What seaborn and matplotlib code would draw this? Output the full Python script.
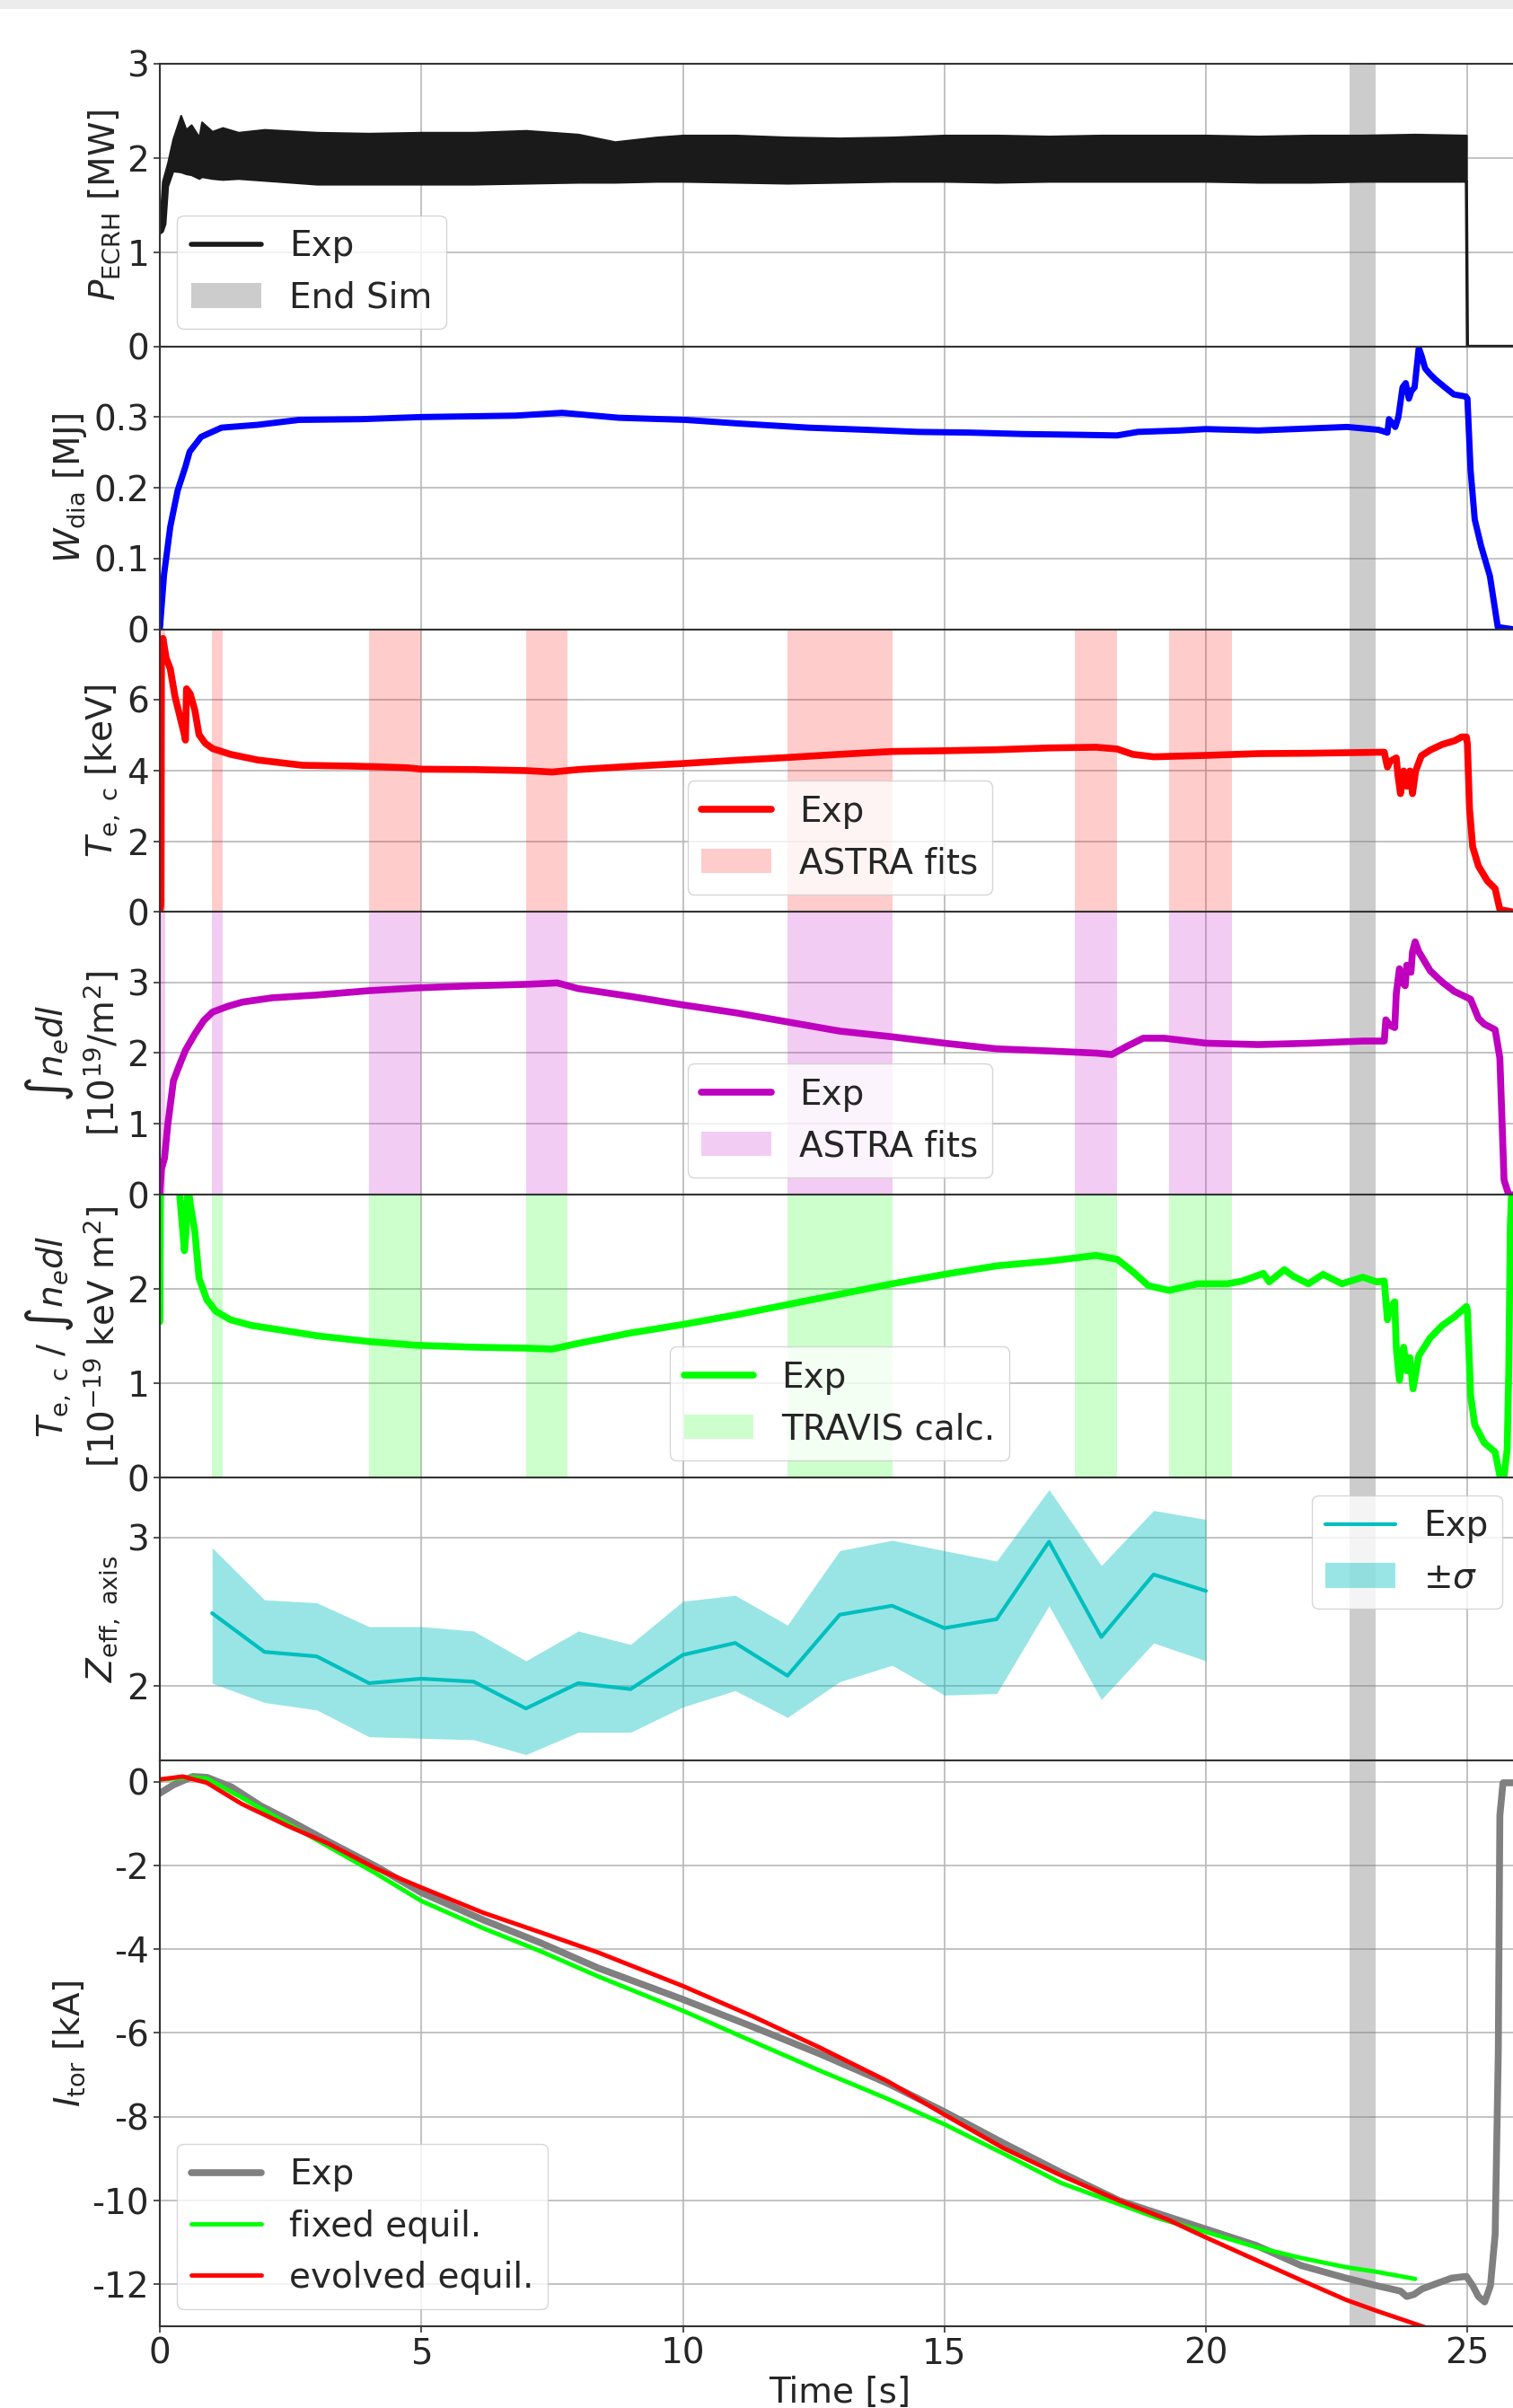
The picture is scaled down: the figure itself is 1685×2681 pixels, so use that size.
import numpy as np
import pandas as pd
import matplotlib
matplotlib.use("Agg")
import matplotlib.pyplot as plt
import seaborn as sns
from matplotlib.patches import Rectangle
from matplotlib.ticker import FuncFormatter

sns.set_theme(style="whitegrid")
plt.rcParams['font.family'] = ['DejaVu Sans']
plt.rcParams['mathtext.fontset'] = 'dejavusans'
plt.rcParams['axes.unicode_minus'] = False

FS = 28
MAGENTA = '#bf00bf'
CYAN = '#00bfbf'

# --- P_ECRH (envelope of the fast oscillating signal) ---
p_t = [0, 0.05, 0.1, 0.15, 0.25, 0.4, 0.5, 0.6, 0.75, 0.8, 1.0, 1.2, 1.5, 2, 3, 4, 5, 6, 7, 8,
       8.7, 9.5, 10, 11, 12, 13, 14, 15, 16, 17, 18, 19, 20, 21, 22, 23, 24, 24.98]
p_up = [1.3, 1.75, 1.85, 1.95, 2.2, 2.45, 2.3, 2.35, 2.22, 2.38, 2.28, 2.32, 2.27, 2.3, 2.27, 2.26, 2.27, 2.27, 2.29, 2.25,
        2.17, 2.22, 2.24, 2.24, 2.22, 2.21, 2.22, 2.24, 2.24, 2.23, 2.24, 2.24, 2.24, 2.23, 2.24, 2.24, 2.25, 2.24]
p_low = [1.2, 1.22, 1.3, 1.7, 1.86, 1.85, 1.83, 1.82, 1.78, 1.8, 1.78, 1.77, 1.78, 1.76, 1.72, 1.72, 1.72, 1.72, 1.73, 1.74,
         1.74, 1.75, 1.75, 1.74, 1.73, 1.74, 1.75, 1.75, 1.74, 1.75, 1.75, 1.75, 1.75, 1.74, 1.74, 1.75, 1.75, 1.75]
p_end_t = [24.98, 25.0, 26.0]
p_end = [1.75, 0.0, 0.0]

# --- W_dia ---
w_t = [0, 0.08, 0.2, 0.34, 0.49, 0.57, 0.79, 1.18, 1.87, 2.66, 3.84, 5.0, 6.8, 7.69, 8.77, 10.05, 11.04, 12.4, 13.5, 14.5,
       15.5, 16.5, 17.5, 18.3, 18.7, 19.5, 20.0, 21.0, 22.7, 23.3, 23.47, 23.5, 23.62, 23.68, 23.76, 23.82, 23.88, 23.93,
       23.99, 24.07, 24.13, 24.19, 24.28, 24.39, 24.57, 24.74, 24.97, 25.0, 25.06, 25.14, 25.26, 25.43, 25.58, 25.86]
w_dia = [0, 0.077, 0.145, 0.196, 0.23, 0.251, 0.272, 0.285, 0.289, 0.296, 0.297, 0.300, 0.302, 0.306, 0.299, 0.296, 0.291,
         0.285, 0.282, 0.279, 0.278, 0.276, 0.275, 0.274, 0.279, 0.281, 0.283, 0.281, 0.286, 0.282, 0.278, 0.297, 0.286,
         0.300, 0.342, 0.348, 0.326, 0.337, 0.342, 0.398, 0.385, 0.369, 0.361, 0.353, 0.342, 0.332, 0.329, 0.326, 0.225,
         0.155, 0.118, 0.075, 0.003, 0.0]

# --- T_e,c ---
te_t = [0, 0.02, 0.03, 0.06, 0.12, 0.2, 0.29, 0.38, 0.47, 0.49, 0.51, 0.58, 0.67, 0.75, 0.87, 1.01, 1.35, 1.87, 2.73, 3.59,
        4.16, 4.73, 5.0, 6.0, 7.0, 7.5, 8.0, 9.0, 10.0, 11.0, 12.0, 13.0, 14.0, 15.0, 16.0, 17.0, 17.9, 18.3, 18.6, 19.0,
        20.0, 21.0, 22.0, 23.41, 23.47, 23.52, 23.64, 23.67, 23.72, 23.78, 23.84, 23.9, 23.95, 24.01, 24.12, 24.29, 24.52,
        24.75, 24.89, 24.98, 25.0, 25.04, 25.1, 25.21, 25.38, 25.53, 25.62, 25.87]
te = [0.0, 0.2, 7.33, 7.72, 7.17, 6.86, 6.08, 5.54, 5.0, 4.85, 6.3, 6.16, 5.69, 5.0, 4.76, 4.61, 4.45, 4.29, 4.14, 4.12,
      4.1, 4.07, 4.03, 4.02, 3.99, 3.95, 4.02, 4.11, 4.19, 4.28, 4.36, 4.45, 4.53, 4.55, 4.58, 4.63, 4.65, 4.6, 4.45, 4.38,
      4.42, 4.47, 4.48, 4.51, 4.09, 4.25, 4.35, 3.87, 3.34, 3.98, 3.55, 3.98, 3.34, 3.98, 4.41, 4.57, 4.73,
      4.83, 4.94, 4.94, 4.73, 2.91, 1.84, 1.3, 0.88, 0.66, 0.07, 0.0]

# --- line integrated density ---
ne_t = [0, 0.03, 0.09, 0.15, 0.26, 0.38, 0.49, 0.67, 0.84, 1.01, 1.3, 1.58, 2.15, 3.01, 3.99, 4.9, 6.0, 7.0, 7.6, 8.0,
        9.0, 10.0, 11.0, 12.0, 13.0, 14.0, 15.0, 16.0, 17.0, 17.9, 18.2, 18.5, 18.8, 19.2, 20.0, 21.0, 22.0, 23.0, 23.41,
        23.44, 23.52, 23.61, 23.64, 23.7, 23.75, 23.81, 23.84, 23.92, 23.95, 24.0, 24.07, 24.29, 24.52, 24.75, 25.06,
        25.21, 25.32, 25.53, 25.62, 25.7, 25.79, 25.87]
ne = [0.0, 0.36, 0.52, 0.98, 1.61, 1.84, 2.04, 2.27, 2.46, 2.58, 2.66, 2.72, 2.78, 2.82, 2.88, 2.92, 2.95, 2.97, 2.99, 2.91,
      2.8, 2.68, 2.57, 2.44, 2.31, 2.23, 2.14, 2.06, 2.03, 2.0, 1.98, 2.1, 2.21, 2.21, 2.14, 2.12, 2.14, 2.17, 2.17,
      2.47, 2.39, 2.36, 2.84, 3.19, 3.0, 2.95, 3.24, 3.14, 3.43, 3.57, 3.43, 3.16, 3.0, 2.87, 2.76,
      2.49, 2.41, 2.33, 1.93, 0.21, 0.0, 0.0]

# --- T_e,c / int n_e dl ---
r_t = [0, 0.02, 0.35, 0.38, 0.47, 0.5, 0.54, 0.58, 0.67, 0.75, 0.9, 1.07, 1.35, 1.75, 2.33, 3.01, 3.99, 4.9, 6.0, 7.0,
       7.5, 8.0, 9.0, 10.0, 11.0, 12.0, 13.0, 14.0, 15.0, 16.0, 17.0, 17.9, 18.3, 18.6, 18.9, 19.3, 19.84, 20.41, 20.7,
       21.1, 21.21, 21.5, 21.67, 21.96, 22.24, 22.6, 23.0, 23.27, 23.41, 23.47, 23.52, 23.61, 23.64, 23.7, 23.78, 23.84,
       23.9, 23.96, 24.07, 24.29, 24.52, 24.75, 24.98, 25.0, 25.06, 25.14, 25.32, 25.53, 25.62, 25.7, 25.76, 25.79,
       25.82, 25.85, 25.9]
ratio = [1.65, 4.0, 3.6, 2.99, 2.4, 2.6, 3.1, 2.9, 2.6, 2.11, 1.88, 1.76, 1.67, 1.61, 1.56, 1.5, 1.44, 1.4, 1.38, 1.37,
         1.36, 1.42, 1.53, 1.62, 1.72, 1.83, 1.94, 2.05, 2.15, 2.24, 2.29, 2.35, 2.31, 2.18, 2.03, 1.98, 2.05, 2.05, 2.08,
         2.16, 2.07, 2.2, 2.13, 2.05, 2.15, 2.05, 2.12, 2.07, 2.08, 1.67, 1.8, 1.86, 1.37, 1.03, 1.38, 1.13,
         1.27, 0.94, 1.29, 1.48, 1.61, 1.7, 1.81, 1.77, 0.87, 0.56, 0.37, 0.27, 0.02, 0.02, 0.3, 1.13,
         2.66, 3.1, 3.5]

# --- Z_eff on axis ---
z_t = [1, 2, 3, 4, 5, 6, 7, 8, 9, 10, 11, 12, 13, 14, 15, 16, 17, 18, 19, 20]
zeff = [2.49, 2.23, 2.2, 2.02, 2.05, 2.03, 1.85, 2.02, 1.98, 2.21, 2.29, 2.07, 2.48, 2.54, 2.39, 2.45, 2.97, 2.33, 2.75, 2.64]
zeff_up = [2.93, 2.58, 2.56, 2.40, 2.40, 2.37, 2.17, 2.37, 2.28, 2.57, 2.61, 2.41, 2.91, 2.98, 2.91, 2.84, 3.32, 2.81, 3.18, 3.12]
zeff_low = [2.02, 1.89, 1.84, 1.66, 1.65, 1.64, 1.54, 1.69, 1.69, 1.86, 1.97, 1.79, 2.03, 2.14, 1.94, 1.95, 2.54, 1.91, 2.29, 2.17]

# --- toroidal current ---
i_t = [0, 0.26, 0.63, 0.9, 1.37, 1.93, 2.48, 3.22, 4.14, 5.0, 6.18, 7.28, 8.38, 10.0, 11.33, 12.62, 13.91, 15.0, 16.13,
       17.23, 18.34, 19.26, 20.0, 20.96, 21.82, 22.68, 23.26, 23.72, 23.84, 23.98, 24.13, 24.41, 24.7, 24.98, 25.1,
       25.21, 25.33, 25.44, 25.53, 25.59, 25.62, 25.68, 25.87]
i_exp = [-0.28, -0.08, 0.12, 0.1, -0.13, -0.58, -0.93, -1.43, -2.03, -2.65, -3.3, -3.85, -4.45, -5.2, -5.85, -6.5, -7.2,
         -7.88, -8.63, -9.33, -10.0, -10.38, -10.68, -11.07, -11.55, -11.85, -12.03, -12.16, -12.29, -12.24, -12.11,
         -11.98, -11.85, -11.81, -12.03, -12.29, -12.42, -12.03, -10.81, -6.46, -0.81, -0.03, -0.03]
f_t = [0, 0.63, 0.9, 1.56, 2.48, 3.22, 4.14, 5.0, 6.18, 7.28, 8.38, 10.0, 11.33, 12.62, 13.91, 15.0, 16.13, 17.23, 18.15,
       19.08, 20.0, 20.96, 21.82, 22.68, 23.26, 24.0]
i_fixed = [0.05, 0.1, 0.07, -0.38, -1.03, -1.55, -2.2, -2.85, -3.5, -4.05, -4.65, -5.47, -6.2, -6.9, -7.57, -8.18,
           -8.88, -9.58, -10.0, -10.42, -10.75, -11.11, -11.37, -11.59, -11.7, -11.87]
e_t = [0, 0.44, 0.9, 1.56, 2.48, 3.22, 4.14, 5.0, 6.18, 7.28, 8.38, 10.0, 11.33, 12.62, 13.91, 15.0, 16.13, 17.23, 18.34,
       19.26, 20.0, 20.96, 21.82, 22.68, 23.26, 24.25]
i_evolved = [0.05, 0.12, -0.03, -0.53, -1.08, -1.48, -2.08, -2.53, -3.13, -3.6, -4.08, -4.88, -5.6, -6.35, -7.15, -7.95,
             -8.75, -9.4, -10.0, -10.45, -10.88, -11.42, -11.9, -12.37, -12.63, -13.05]

# time windows
fit_windows = [(1.0, 1.2), (4.0, 5.0), (7.0, 7.8), (12.0, 14.0), (17.5, 18.3), (19.3, 20.5)]
end_sim = (22.75, 23.25)


def add_windows(ax, color, label, start=False):
    wins = ([(0.0, 0.1)] if start else []) + fit_windows
    for i, (a, b) in enumerate(wins):
        ax.axvspan(a, b, color=color, alpha=0.2, lw=0, label=label if i == 0 else None)


def legend_exp_first(ax, **kw):
    h, l = ax.get_legend_handles_labels()
    order = sorted(range(len(l)), key=lambda i: 0 if l[i] == 'Exp' else 1)
    return ax.legend([h[i] for i in order], [l[i] for i in order], fontsize=FS, **kw)


fig, axes = plt.subplots(7, 1, sharex=True, figsize=(16.85, 26.81), dpi=100,
                         gridspec_kw=dict(height_ratios=[1, 1, 1, 1, 1, 1, 2], hspace=0))
fig.subplots_adjust(left=178 / 1685, right=1692.5 / 1685, top=1 - 70.7 / 2681, bottom=1 - 2590 / 2681)

for ax in axes:
    ax.axvspan(*end_sim, color='gray', alpha=0.4, lw=0, label='End Sim' if ax is axes[0] else None)
    ax.grid(True, color='#b8b8b8', lw=1.2)
    for s in ax.spines.values():
        s.set_visible(True)
        s.set_color('#333333')
        s.set_linewidth(1.5)
    ax.tick_params(axis='both', length=5, width=1.2, color='#333333', labelsize=FS,
                   left=True, bottom=True, direction='out')
    ax.yaxis.set_major_formatter(FuncFormatter(lambda v, p: '%g' % v))

# 1) ECRH power
ax = axes[0]
ax.fill_between(p_t, p_low, p_up, color='k', lw=1.5)
sns.lineplot(x=p_end_t, y=p_end, ax=ax, color='k', lw=2.5, sort=False, estimator=None, label='Exp')
ax.set_ylim(0, 3)
ax.set_yticks([0, 1, 2, 3])
ax.set_ylabel(r'$P_\mathrm{ECRH}$ [MW]', fontsize=FS)
leg = legend_exp_first(ax, loc='lower left')
for ln in leg.get_lines():
    ln.set_linewidth(4)

# 2) diamagnetic energy
ax = axes[1]
sns.lineplot(x=w_t, y=w_dia, ax=ax, color='blue', lw=5, sort=False, estimator=None)
ax.set_ylim(0, 0.4)
ax.set_yticks([0, 0.1, 0.2, 0.3])
ax.set_ylabel(r'$W_\mathrm{dia}$ [MJ]', fontsize=FS)
if ax.get_legend():
    ax.get_legend().remove()

# 3) central electron temperature
ax = axes[2]
add_windows(ax, 'red', 'ASTRA fits', start=True)
sns.lineplot(x=te_t, y=te, ax=ax, color='red', lw=5.5, sort=False, estimator=None, label='Exp')
ax.set_ylim(0, 7.98)
ax.set_yticks([0, 2, 4, 6])
ax.set_ylabel(r'$T_\mathrm{e,\ c}$ [keV]', fontsize=FS)
legend_exp_first(ax, loc='lower center')

# 4) line integrated density
ax = axes[3]
add_windows(ax, MAGENTA, 'ASTRA fits', start=True)
sns.lineplot(x=ne_t, y=ne, ax=ax, color=MAGENTA, lw=5.5, sort=False, estimator=None, label='Exp')
ax.set_ylim(0, 3.99)
ax.set_yticks([0, 1, 2, 3])
ax.set_ylabel('$\\int n_e dl$\n[$10^{19}$/m$^2$]', fontsize=FS)
legend_exp_first(ax, loc='lower center')

# 5) T_e / n_e
ax = axes[4]
add_windows(ax, 'lime', 'TRAVIS calc.')
sns.lineplot(x=r_t, y=ratio, ax=ax, color='lime', lw=5.5, sort=False, estimator=None, label='Exp')
ax.set_ylim(0, 2.99)
ax.set_yticks([0, 1, 2])
ax.set_ylabel('$T_\\mathrm{e,\\ c}$ / $\\int n_e dl$\n[$10^{-19}$ keV m$^2$]', fontsize=FS)
legend_exp_first(ax, loc='lower center')

# 6) Z_eff
ax = axes[5]
sns.lineplot(x=z_t, y=zeff, ax=ax, color=CYAN, lw=3, sort=False, estimator=None, label='Exp')
ax.fill_between(z_t, zeff_low, zeff_up, color=CYAN, alpha=0.4, lw=0, label=r'$\pm\sigma$')
ax.set_ylim(1.5, 3.4)
ax.set_yticks([2, 3])
ax.set_ylabel(r'$Z_\mathrm{eff,\ axis}$', fontsize=FS)
legend_exp_first(ax, loc='upper right')

# 7) toroidal current
ax = axes[6]
sns.lineplot(x=i_t, y=i_exp, ax=ax, color='gray', lw=5.5, sort=False, estimator=None, label='Exp')
sns.lineplot(x=f_t, y=i_fixed, ax=ax, color='lime', lw=3.5, sort=False, estimator=None, label='fixed equil.')
sns.lineplot(x=e_t, y=i_evolved, ax=ax, color='red', lw=3.5, sort=False, estimator=None, label='evolved equil.')
ax.set_ylim(-13, 0.5)
ax.set_yticks([0, -2, -4, -6, -8, -10, -12])
ax.set_ylabel(r'$I_\mathrm{tor}$ [kA]', fontsize=FS)
legend_exp_first(ax, loc='lower left')

ax.set_xlim(0, 26)
ax.set_xticks([0, 5, 10, 15, 20, 25])
ax.set_xlabel('Time [s]', fontsize=FS)

fig.add_artist(Rectangle((0, 1 - 10 / 2681), 1, 10 / 2681, transform=fig.transFigure,
                         facecolor='#ececec', edgecolor='none', zorder=10))

fig.savefig('out.png', dpi=100)
